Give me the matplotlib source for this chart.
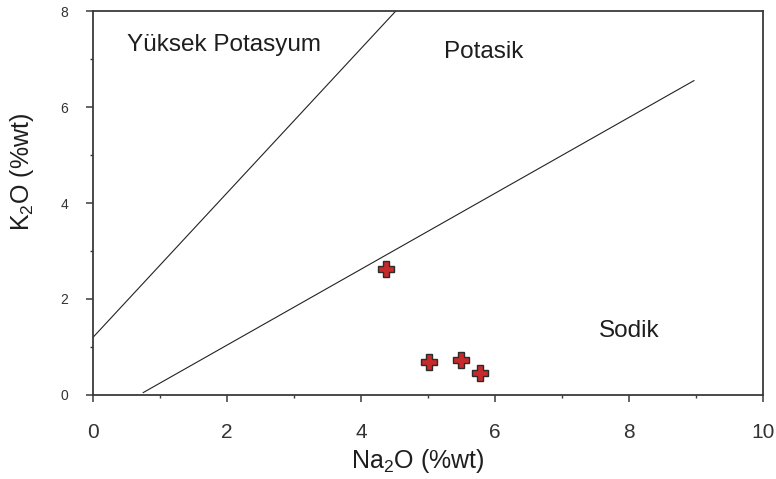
import matplotlib
matplotlib.use("Agg")
import matplotlib.pyplot as plt
from matplotlib.ticker import MultipleLocator

plt.rcParams['font.family'] = ['Liberation Sans', 'DejaVu Sans']

# sample compositions (wt %)
na2o = [4.38, 5.02, 5.50, 5.77]
k2o = [2.63, 0.68, 0.73, 0.45]

# field boundaries (end points in Na2O, K2O)
high_k_x = [0.0, 4.52]
high_k_y = [1.20, 8.0]
sodic_x = [0.75, 8.97]
sodic_y = [0.05, 6.55]

# field names and where they sit
field_names = ["Yüksek Potasyum", "Potasik", "Sodik"]
field_x = [0.51, 5.24, 7.55]
field_y = [7.17, 7.02, 1.21]

fig = plt.figure(figsize=(7.76, 4.79), dpi=100)
ax = fig.add_axes([0.1198, 0.1754, 0.8634, 0.8016])

ax.plot(high_k_x, high_k_y, color='#222222', lw=0.8)
ax.plot(sodic_x, sodic_y, color='#222222', lw=0.8)

ax.plot(na2o, k2o, linestyle='none', marker='P', markersize=11,
        markerfacecolor='#c62a2a', markeredgecolor='#2b2b2b', markeredgewidth=1.0, zorder=3)

for name, x, y in zip(field_names, field_x, field_y):
    ax.text(x, y, name, fontsize=17.5, color='#1e1e1e', ha='left', va='baseline')

ax.set_xlim(0, 10)
ax.set_ylim(0, 8)
ax.xaxis.set_major_locator(MultipleLocator(2))
ax.xaxis.set_minor_locator(MultipleLocator(1))
ax.yaxis.set_major_locator(MultipleLocator(2))
ax.yaxis.set_minor_locator(MultipleLocator(1))

for s in ax.spines.values():
    s.set_color('#3a3a3a')
    s.set_linewidth(1.3)

ax.tick_params(axis='both', which='major', direction='out', length=5, width=1.1, color='#3a3a3a')
ax.tick_params(axis='both', which='minor', direction='out', length=2.5, width=1.0, color='#3a3a3a')
ax.tick_params(axis='x', which='major', labelsize=15, pad=15, labelcolor='#333333')
ax.tick_params(axis='y', which='major', labelsize=10, pad=13, labelcolor='#333333')
ax.tick_params(top=False, right=False, which='both')

ax.set_xlabel(r'Na$\mathregular{_2}$O (%wt)', fontsize=18, color='#1e1e1e')
ax.set_ylabel(r'K$\mathregular{_2}$O (%wt)', fontsize=18, color='#1e1e1e')
ax.xaxis.set_label_coords(0.485, -0.135)
ax.yaxis.set_label_coords(-0.085, 0.58)

fig.savefig('out.png', dpi=100)
